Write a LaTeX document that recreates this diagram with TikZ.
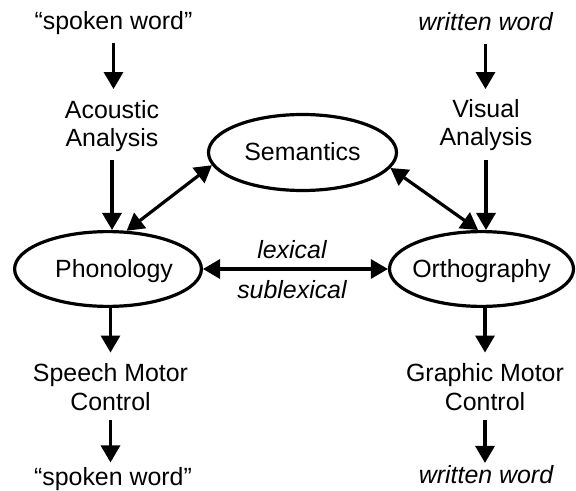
\documentclass[tikz,border=0pt]{standalone}
\usepackage{fontspec}
\setmainfont{Liberation Sans}
\usetikzlibrary{arrows.meta,shapes.geometric}
\begin{document}
\begin{tikzpicture}[x=1bp,y=-1bp,
  txt/.style={font=\fontsize{25}{28.5}\selectfont, inner sep=0pt, outer sep=0pt, align=center, anchor=base},
  itx/.style={txt, font=\fontsize{25}{28.5}\selectfont\itshape},
  ell/.style={ellipse, draw, line width=3.2bp, inner xsep=-6bp, inner ysep=0pt, text height=17bp, text depth=0pt, font=\fontsize{25}{28.5}\selectfont},
  arr/.style={line width=3.2bp, -{Triangle[length=17bp,width=19bp]}},
  dbl/.style={line width=3.2bp, {Triangle[length=17bp,width=19bp]}-{Triangle[length=17bp,width=19bp]}},
]
\useasboundingbox (0,0) rectangle (576,491);

\node[ell, minimum width=186.8bp, minimum height=74.8bp] (pho) at (108,269) {\hspace*{12bp}Phonology};
\node[ell, minimum width=188bp, minimum height=76bp] (sem) at (302.5,152.5) {Semantics};
\node[ell, minimum width=184bp, minimum height=74.8bp] (orth) at (481.5,269) {Orthography};

\node[txt] (swin) at (113.5,30) {“spoken word”};
\node[txt] (ac) at (112,147) {Acoustic\\Analysis};
\node[itx] (wwin) at (485.5,31) {written word};
\node[txt] (va) at (486,146) {Visual\\Analysis};
\node[txt] (smc) at (110.5,410) {Speech Motor\\Control};
\node[txt] (gmc) at (485,410) {Graphic Motor\\Control};
\node[txt] (swout) at (113,485) {“spoken word”};
\node[itx] (wwout) at (486,483) {written word};

\draw[arr, shorten <=8bp, shorten >=11.5bp] (swin.south) -- (swin.south |- ac.north);
\draw[arr, shorten <=8bp] (ac.south) -- (ac.south |- pho.north);
\draw[arr, shorten <=13bp, shorten >=10.5bp] (wwin.south) -- (wwin.south |- va.north);
\draw[arr, shorten <=9bp] (va.south) -- (va.south |- orth.north);
\draw[arr, shorten >=11bp] (pho.south -| smc.north) -- (smc.north);
\draw[arr, shorten <=10bp, shorten >=4.5bp] (smc.south) -- (smc.south |- swout.north);
\draw[arr, shorten >=11bp] (orth.south -| gmc.north) -- (gmc.north);
\draw[arr, shorten <=10bp, shorten >=2bp] (gmc.south) -- (gmc.south |- wwout.north);

\draw[dbl] (pho.64) -- (sem.188.8);
\draw[dbl] (sem.350.3) -- (orth.95);
\draw[dbl] (pho) -- node[itx, midway, xshift=-3.5bp, yshift=11bp] (lex) {lexical}
                   node[itx, midway, xshift=-3.5bp, yshift=-29bp] (sublex) {sublexical} (orth);
\end{tikzpicture}
\end{document}
